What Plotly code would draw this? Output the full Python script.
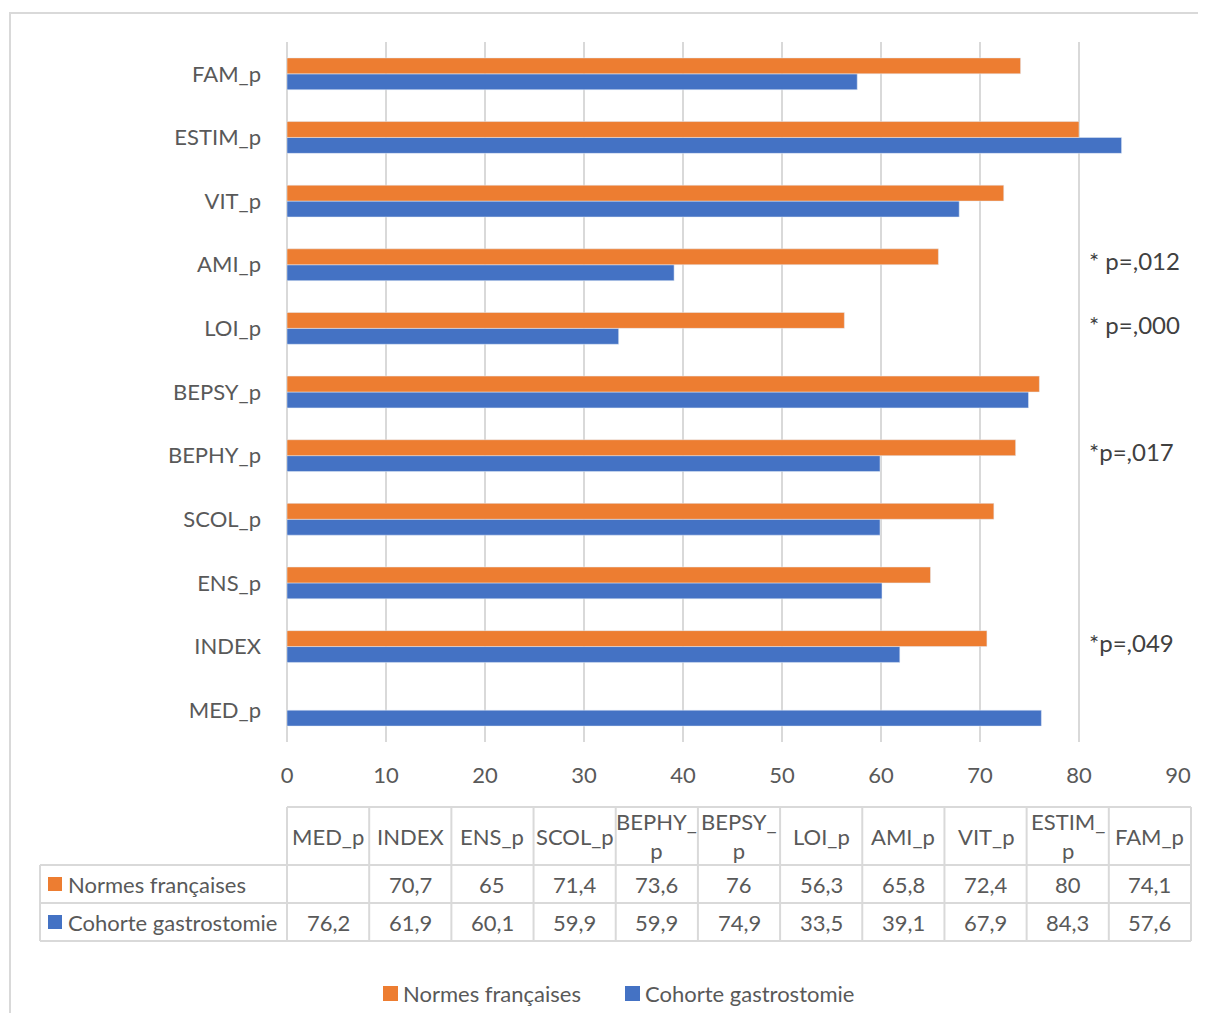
import plotly.graph_objects as go

# Données (de bas en haut sur le graphique, ordre du tableau)
categories = ['MED_p', 'INDEX', 'ENS_p', 'SCOL_p', 'BEPHY_p', 'BEPSY_p',
              'LOI_p', 'AMI_p', 'VIT_p', 'ESTIM_p', 'FAM_p']
header_labels = ['MED_p', 'INDEX', 'ENS_p', 'SCOL_p', 'BEPHY_<br>p', 'BEPSY_<br>p',
                 'LOI_p', 'AMI_p', 'VIT_p', 'ESTIM_<br>p', 'FAM_p']
normes = [None, 70.7, 65, 71.4, 73.6, 76, 56.3, 65.8, 72.4, 80, 74.1]
cohorte = [76.2, 61.9, 60.1, 59.9, 59.9, 74.9, 33.5, 39.1, 67.9, 84.3, 57.6]
pval_cats = ['AMI_p', 'LOI_p', 'BEPHY_p', 'INDEX']
pval_texts = ['* p=,012', '* p=,000', '*p=,017', '*p=,049']

# la page html ajoute une marge de 8 px : on garde la figure dans la fenêtre
OFF = 8
W, H = 1190, 1005
FONT = 'Lato'
GREY = '#595959'
LINE = '#d9d9d9'
ORANGE = '#ED7D31'
BLUE = '#4472C4'


def px(x):
    return (x - OFF) / W


def py(y):
    return 1 - (y - OFF) / H


def fmt(v):
    if v is None:
        return ''
    return f'{v:g}'.replace('.', ',')


fig = go.Figure()

# la première trace est dessinée en bas de chaque groupe
fig.add_trace(go.Bar(y=categories, x=cohorte, orientation='h', name='Cohorte gastrostomie',
                     marker_color=BLUE, showlegend=False))
fig.add_trace(go.Bar(y=categories, x=normes, orientation='h', name='Normes françaises',
                     marker_color=ORANGE, showlegend=False))

# annotations p-valeurs
for cat, txt in zip(pval_cats, pval_texts):
    fig.add_annotation(x=80.8, y=cat, xref='x', yref='y', text=txt, showarrow=False,
                       xanchor='left', yanchor='middle', yshift=4,
                       font=dict(family=FONT, size=24, color='#404040'))

shapes = []
# cadre extérieur
shapes.append(dict(type='rect', xref='paper', yref='paper', x0=px(10), x1=px(1230),
                   y0=py(13), y1=py(1040), line=dict(color=LINE, width=2)))

# tableau de données
n = len(categories)
x_left, x_tab0, x_tab1 = 40, 287, 1191
col_w = (x_tab1 - x_tab0) / n
y_top, y_h, y_r1, y_r2 = 807, 865, 903, 941
line = dict(color=LINE, width=2)
shapes.append(dict(type='line', xref='paper', yref='paper', x0=px(x_tab0), x1=px(x_tab1),
                   y0=py(y_top), y1=py(y_top), line=line))
for yy in (y_h, y_r1, y_r2):
    shapes.append(dict(type='line', xref='paper', yref='paper', x0=px(x_left), x1=px(x_tab1),
                       y0=py(yy), y1=py(yy), line=line))
shapes.append(dict(type='line', xref='paper', yref='paper', x0=px(x_left), x1=px(x_left),
                   y0=py(y_h), y1=py(y_r2), line=line))
for i in range(n + 1):
    xx = x_tab0 + i * col_w
    shapes.append(dict(type='line', xref='paper', yref='paper', x0=px(xx), x1=px(xx),
                       y0=py(y_top), y1=py(y_r2), line=line))

tab_font = dict(family=FONT, size=22, color=GREY)
for i in range(n):
    xc = px(x_tab0 + (i + 0.5) * col_w)
    for yc, txt in (((y_top + y_h) / 2, header_labels[i]),
                    ((y_h + y_r1) / 2, fmt(normes[i])),
                    ((y_r1 + y_r2) / 2, fmt(cohorte[i]))):
        fig.add_annotation(x=xc, y=py(yc), xref='paper', yref='paper', text=txt,
                           showarrow=False, xanchor='center', yanchor='middle', font=tab_font)

series_names = ['Normes françaises', 'Cohorte gastrostomie']
series_colors = [ORANGE, BLUE]
for (y0, y1), name, col in zip(((y_h, y_r1), (y_r1, y_r2)), series_names, series_colors):
    yc = (y0 + y1) / 2
    shapes.append(dict(type='rect', xref='paper', yref='paper', x0=px(48), x1=px(62),
                       y0=py(yc - 7), y1=py(yc + 7), fillcolor=col, line=dict(width=0)))
    fig.add_annotation(x=px(66), y=py(yc), xref='paper', yref='paper', text=name,
                       showarrow=False, xanchor='left', yanchor='middle', font=tab_font)

# légende en bas
for x_sq, name, col in zip((383, 625), series_names, series_colors):
    shapes.append(dict(type='rect', xref='paper', yref='paper', x0=px(x_sq), x1=px(x_sq + 15),
                       y0=py(986), y1=py(1001), fillcolor=col, line=dict(width=0)))
    fig.add_annotation(x=px(x_sq + 18), y=py(993), xref='paper', yref='paper', text=name,
                       showarrow=False, xanchor='left', yanchor='middle', font=tab_font)

fig.update_layout(
    width=W, height=H,
    margin=dict(l=0, r=0, t=0, b=0),
    paper_bgcolor='white', plot_bgcolor='white',
    barmode='group', bargap=0.5, bargroupgap=0,
    font=dict(family=FONT, size=22, color=GREY),
    shapes=shapes,
    showlegend=False,
)
fig.update_xaxes(domain=[px(287), px(1178)], range=[0, 90], dtick=10,
                 showgrid=True, gridcolor=LINE, gridwidth=2,
                 zeroline=True, zerolinecolor=LINE, zerolinewidth=2,
                 showline=False, ticks='', ticklabelstandoff=18, automargin=False,
                 tickfont=dict(family=FONT, size=22, color=GREY))
fig.update_yaxes(domain=[py(742), py(42)], type='category', categoryorder='array',
                 categoryarray=categories, showgrid=False, zeroline=False,
                 showline=False, ticks='', ticklabelstandoff=25, automargin=False,
                 tickfont=dict(family=FONT, size=22, color=GREY))

fig.write_html('out.html')
